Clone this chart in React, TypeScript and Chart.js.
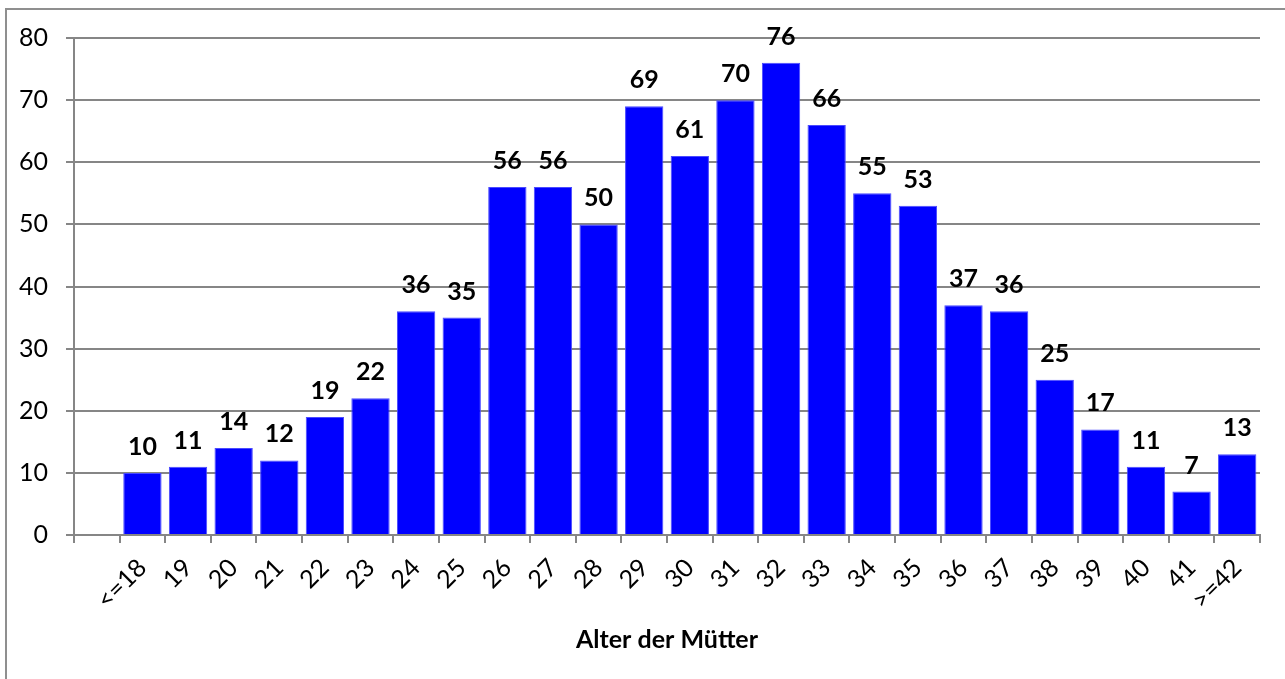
import React, { useEffect, useRef } from "react";
import { Chart, registerables } from "chart.js";

Chart.register(...registerables);

const categories: string[] = [
  "", "<=18", "19", "20", "21", "22", "23", "24", "25", "26", "27", "28", "29",
  "30", "31", "32", "33", "34", "35", "36", "37", "38", "39", "40", "41", ">=42",
];
const counts: (number | null)[] = [
  null, 10, 11, 14, 12, 19, 22, 36, 35, 56, 56, 50, 69,
  61, 70, 76, 66, 55, 53, 37, 36, 25, 17, 11, 7, 13,
];
const yTicks: number[] = [0, 10, 20, 30, 40, 50, 60, 70, 80];
const axisTitle = "Alter der Mütter";

const FONT = "Lato";
const GRID = "#868686";

const framePlugin = {
  id: "frame",
  beforeDraw(chart: any) {
    const ctx = chart.ctx;
    ctx.save();
    ctx.fillStyle = "#ffffff";
    ctx.fillRect(0, 0, chart.width, chart.height);
    ctx.strokeStyle = "#8f8f8f";
    ctx.lineWidth = 2;
    ctx.strokeRect(6, 9, chart.width + 20, chart.height + 20);
    ctx.restore();
  },
};

const labelPlugin = {
  id: "valueLabels",
  afterDatasetsDraw(chart: any) {
    const ctx = chart.ctx;
    const meta = chart.getDatasetMeta(0);
    const data = chart.data.datasets[0].data;
    ctx.save();
    ctx.font = `bold 25px ${FONT}`;
    ctx.fillStyle = "#000000";
    ctx.textAlign = "center";
    ctx.textBaseline = "alphabetic";
    meta.data.forEach((el: any, i: number) => {
      const v = data[i];
      if (v === null || v === undefined) return;
      ctx.fillText(String(v), el.x, el.y - 18);
    });
    ctx.restore();
  },
};

export default function App() {
  const ref = useRef<HTMLCanvasElement | null>(null);

  useEffect(() => {
    document.body.style.margin = "0";
    const canvas = ref.current!;
    const chart = new Chart(canvas, {
      type: "bar",
      data: {
        labels: categories,
        datasets: [
          {
            data: counts,
            backgroundColor: "#0000ff",
            borderColor: "#4a4aff",
            borderWidth: 1,
            barPercentage: 0.84,
            categoryPercentage: 1,
          },
        ],
      },
      options: {
        responsive: false,
        animation: false,
        devicePixelRatio: 1,
        layout: { padding: { left: 0, right: 25, top: 38, bottom: 0 } },
        plugins: {
          legend: { display: false },
          tooltip: { enabled: false },
          title: { display: false },
        },
        scales: {
          x: {
            offset: true,
            grid: {
              offset: true,
              drawOnChartArea: false,
              drawTicks: true,
              tickLength: 8,
              color: GRID,
              lineWidth: 2,
            },
            border: { display: true, color: GRID, width: 2 },
            ticks: {
              autoSkip: false,
              minRotation: 45,
              maxRotation: 45,
              padding: 10,
              color: "#000000",
              font: { family: FONT, size: 25 },
            },
            title: {
              display: true,
              text: axisTitle,
              color: "#000000",
              font: { family: FONT, size: 25, weight: "bold" },
              padding: { top: 0, bottom: 24 },
            },
            afterFit(scale: any) {
              scale.height = 144;
              scale.paddingLeft = 0;
              scale.paddingRight = 0;
            },
          },
          y: {
            min: 0,
            max: 80,
            afterBuildTicks(scale: any) {
              scale.ticks = yTicks.map((v) => ({ value: v }));
            },
            grid: {
              color: GRID,
              lineWidth: 2,
              drawTicks: true,
              tickLength: 8,
            },
            border: { display: true, color: GRID, width: 2 },
            ticks: {
              padding: 18,
              color: "#000000",
              font: { family: FONT, size: 25 },
            },
            afterFit(scale: any) {
              scale.width = 74;
              scale.paddingTop = 0;
              scale.paddingBottom = 0;
            },
          },
        },
      },
      plugins: [framePlugin, labelPlugin],
    });
    return () => chart.destroy();
  }, []);

  return (
    <div style={{ position: "absolute", left: 0, top: 0, width: 1285, height: 679, overflow: "hidden" }}>
      <canvas ref={ref} width={1285} height={679} style={{ display: "block" }} />
    </div>
  );
}
